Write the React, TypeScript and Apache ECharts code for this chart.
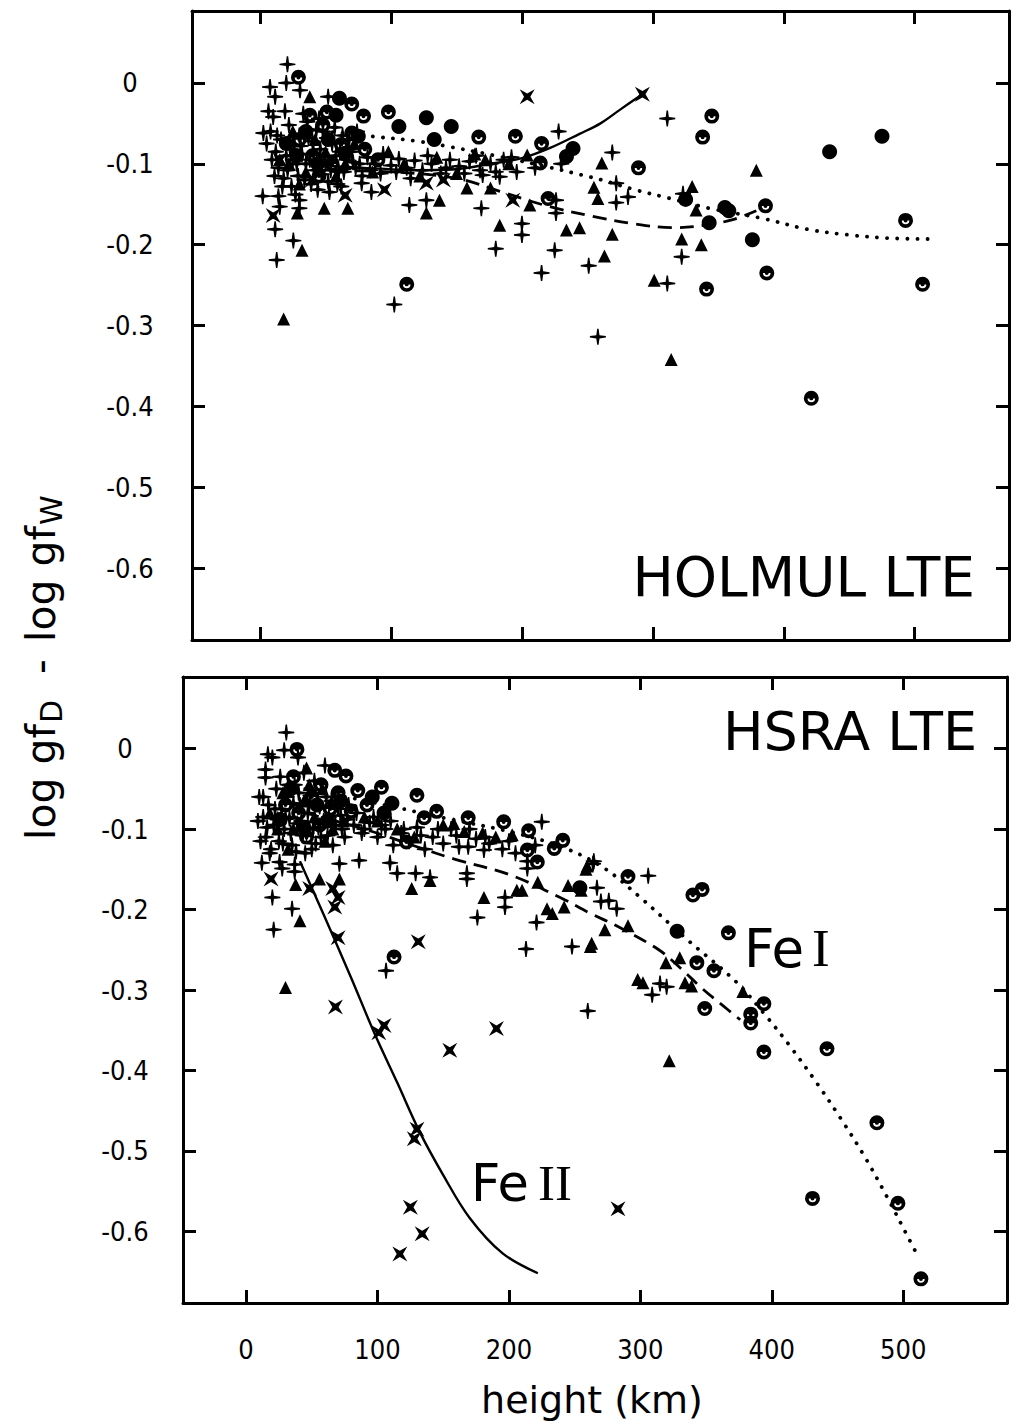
import React, { useEffect, useRef } from "react";
import * as echarts from "echarts";

// ---------- axis ticks ----------
const xTickValues = [0, 100, 200, 300, 400, 500];
const xTickLabels = ["0", "100", "200", "300", "400", "500"];
const yTickValues = [0, -0.1, -0.2, -0.3, -0.4, -0.5, -0.6];
const yTickLabels = ["0", "-0.1", "-0.2", "-0.3", "-0.4", "-0.5", "-0.6"];

// ---------- HOLMUL LTE (top panel) ----------
const topPlus = [
  [20.9, 0.023], [7.6, -0.005], [11.5, -0.017], [20, 0], [30.5, -0.009], [6.4, -0.035], [52, -0.017], [2.5, -0.062],
  [2, -0.14], [14, -0.14], [15, -0.153], [11.5, -0.181], [12.7, -0.219], [25.4, -0.195], [30, -0.145], [30, -0.155],
  [85, -0.135], [77.6, -0.124], [114, -0.151], [127, -0.145], [170, -0.114], [183, -0.116], [169, -0.155],
  [200, -0.174], [200, -0.188], [180, -0.205], [225, -0.207], [215, -0.235], [251, -0.226], [226, -0.145],
  [226, -0.161], [228, -0.06], [102.5, -0.274], [269, -0.086], [272, -0.124], [272, -0.148], [281, -0.141],
  [311, -0.044], [323, -0.137], [322, -0.215], [311, -0.248], [258, -0.314],
  [8, -0.06], [12, -0.085], [14, -0.105], [16, -0.07], [18, -0.118], [20, -0.09], [22, -0.052], [24, -0.128],
  [26, -0.078], [28, -0.1], [30, -0.065], [32, -0.088], [34, -0.12], [36, -0.048], [38, -0.095], [40, -0.072],
  [42, -0.108], [44, -0.132], [46, -0.082], [48, -0.06], [50, -0.1], [52, -0.122], [55, -0.075], [58, -0.09],
  [60, -0.11], [63, -0.065], [66, -0.095], [70, -0.085], [73, -0.105], [10, -0.042], [19, -0.035], [27, -0.138],
  [33, -0.038], [45, -0.044], [53, -0.135], [62, -0.128], [68, -0.07], [76, -0.1], [82, -0.092], [88, -0.1],
  [94, -0.088], [100, -0.102], [106, -0.094], [112, -0.105], [118, -0.096], [124, -0.108], [131, -0.1],
  [138, -0.112], [145, -0.095], [152, -0.103], [160, -0.097], [168, -0.108], [176, -0.1], [186, -0.095], [196, -0.11],
  [5, -0.075], [9, -0.095], [11, -0.115], [13, -0.065], [17, -0.128], [21, -0.108], [23, -0.082], [25, -0.095],
  [29, -0.115], [31, -0.078], [35, -0.1], [37, -0.068], [39, -0.125], [41, -0.088], [43, -0.058], [47, -0.113],
  [49, -0.09], [51, -0.068], [54, -0.108], [57, -0.055], [59, -0.125], [61, -0.085], [64, -0.11], [67, -0.08],
  [71, -0.098], [74, -0.06], [78, -0.115], [84, -0.108], [92, -0.112], [104, -0.11], [115, -0.118], [128, -0.09],
  [142, -0.105], [156, -0.112], [165, -0.09], [180, -0.11], [192, -0.092], [210, -0.105], [230, -0.1],
];
const topTri = [
  [38, -0.017], [32, -0.207], [18, -0.292], [28.5, -0.161], [49, -0.155], [67, -0.155], [127, -0.161], [137, -0.145],
  [158, -0.13], [176, -0.13], [206, -0.151], [183, -0.176], [234, -0.182], [244, -0.179], [164, -0.088], [204, -0.089],
  [261, -0.099], [255, -0.129], [258, -0.143], [330, -0.128], [333, -0.157], [269, -0.187], [322, -0.193],
  [337, -0.2], [263, -0.214], [301, -0.244], [379, -0.108], [314, -0.342],
  [15, -0.095], [25, -0.06], [35, -0.11], [42, -0.07], [50, -0.085], [58, -0.115], [65, -0.1], [72, -0.075],
  [30, -0.125], [22, -0.1], [86, -0.11], [98, -0.085], [110, -0.1], [122, -0.115], [135, -0.092], [150, -0.112],
  [172, -0.095], [190, -0.1],
];
const topRing = [
  [29.3, 0.007], [70, -0.026], [51, -0.036], [79, -0.041], [98, -0.036], [167, -0.067], [195, -0.066], [215, -0.075],
  [214, -0.099], [220, -0.143], [112, -0.249], [345, -0.041], [338, -0.067], [289, -0.105], [386, -0.152],
  [493, -0.17], [387, -0.235], [341, -0.255], [506, -0.249], [421, -0.39],
  [30, -0.07], [40, -0.09], [48, -0.052], [55, -0.1], [62, -0.076], [70, -0.062], [38, -0.04], [45, -0.115],
  [80, -0.082], [90, -0.095],
];
const topDisc = [
  [60.6, -0.019], [127, -0.043], [106, -0.054], [146, -0.054], [133, -0.07], [239, -0.081], [234, -0.091],
  [435, -0.085], [475, -0.066], [325, -0.144], [355, -0.154], [358, -0.158], [343, -0.173], [376, -0.194],
  [35, -0.06], [52, -0.07], [65, -0.087], [75, -0.066], [28, -0.09], [44, -0.1], [58, -0.04], [20, -0.075],
];
const topCross = [
  [10, -0.164], [65, -0.139], [95, -0.132], [127, -0.124], [193, -0.145], [204, -0.017], [292, -0.014],
  [15, -0.095], [40, -0.12], [140, -0.12],
];
const topSolid = [
  [40, -0.1], [65, -0.104], [92, -0.106], [117, -0.108], [147, -0.107], [176, -0.1], [200, -0.093], [222, -0.08],
  [244, -0.063], [260, -0.05], [275, -0.033], [292, -0.014],
];
const topDotted = [
  [40, -0.058], [85, -0.066], [120, -0.072], [145, -0.079], [180, -0.09], [220, -0.104], [246, -0.114],
  [261, -0.12], [286, -0.132], [311, -0.142], [343, -0.155], [385, -0.168], [418, -0.181], [450, -0.188],
  [480, -0.192], [511, -0.193],
];
const topDashed = [
  [40, -0.108], [100, -0.11], [150, -0.118], [185, -0.135], [219, -0.152], [254, -0.165], [285, -0.174],
  [315, -0.179], [340, -0.176], [361, -0.169], [379, -0.158],
];

// ---------- HSRA LTE (bottom panel) ----------
const botPlus = [
  [30.6, 0.02], [29, -0.002], [39.5, -0.011], [16.6, -0.007], [20, -0.011], [14.8, -0.026], [14.8, -0.036],
  [60, -0.021], [225, -0.091], [214, -0.14], [214, -0.149], [169, -0.122], [181, -0.126], [168, -0.155],
  [168, -0.162], [197, -0.185], [197, -0.197], [176, -0.21], [221, -0.216], [213, -0.249], [248, -0.246],
  [264, -0.143], [129, -0.155], [140, -0.16], [109.5, -0.142], [115, -0.155], [86, -0.139], [71, -0.143],
  [12, -0.142], [25.5, -0.141], [27.5, -0.149], [37, -0.144], [37, -0.153], [20, -0.185], [35, -0.199],
  [21, -0.225], [106.5, -0.276], [264.6, -0.14], [306, -0.158], [267, -0.173], [270, -0.19], [276, -0.189],
  [282, -0.199], [315, -0.292], [309, -0.306], [320, -0.296], [260, -0.326],
  [10, -0.06], [13, -0.085], [15, -0.11], [17, -0.07], [19, -0.125], [21, -0.095], [23, -0.05], [25, -0.115],
  [27, -0.075], [29, -0.1], [31, -0.06], [33, -0.087], [35, -0.12], [37, -0.045], [39, -0.093], [41, -0.07],
  [43, -0.108], [45, -0.13], [47, -0.08], [49, -0.058], [51, -0.1], [53, -0.118], [56, -0.072], [59, -0.09],
  [62, -0.108], [65, -0.065], [68, -0.095], [72, -0.083], [75, -0.11], [78, -0.07], [82, -0.095], [88, -0.105],
  [94, -0.092], [100, -0.11], [106, -0.1], [112, -0.12], [118, -0.105], [124, -0.115], [130, -0.098],
  [136, -0.125], [142, -0.11], [150, -0.118], [156, -0.1], [162, -0.122], [175, -0.112], [185, -0.118],
  [195, -0.125], [205, -0.13], [26, -0.035], [44, -0.03],
  [9, -0.09], [11, -0.115], [13, -0.06], [16, -0.098], [18, -0.13], [22, -0.075], [24, -0.088], [28, -0.118],
  [30, -0.085], [32, -0.045], [34, -0.105], [36, -0.068], [38, -0.128], [40, -0.055], [42, -0.09], [46, -0.105],
  [48, -0.07], [50, -0.125], [52, -0.04], [55, -0.098], [57, -0.11], [61, -0.06], [63, -0.085], [66, -0.12],
  [70, -0.075], [73, -0.1], [77, -0.088], [84, -0.08], [90, -0.1], [97, -0.085], [103, -0.095], [110, -0.09],
  [120, -0.1], [133, -0.108], [146, -0.1], [160, -0.108], [170, -0.1], [182, -0.11], [200, -0.115], [220, -0.12],
];
const botTri = [
  [46, -0.024], [202.5, -0.107], [166, -0.103], [181, -0.185], [262, -0.246], [206, -0.176], [210, -0.176],
  [222, -0.166], [229, -0.199], [233, -0.205], [242, -0.197], [245, -0.17], [255, -0.176], [258.6, -0.15],
  [126, -0.174], [140, -0.164], [55.8, -0.162], [71, -0.162], [37.7, -0.169], [41, -0.214], [30, -0.297],
  [259.5, -0.146], [290.6, -0.22], [273, -0.225], [263, -0.242], [319.5, -0.266], [330, -0.26], [298, -0.287],
  [334, -0.291], [302, -0.291], [339, -0.295], [378, -0.302], [322, -0.388],
  [18, -0.08], [28, -0.055], [36, -0.1], [44, -0.065], [52, -0.085], [60, -0.115], [66, -0.1], [74, -0.09],
  [32, -0.125], [24, -0.1], [90, -0.085], [100, -0.09], [115, -0.1], [128, -0.11], [150, -0.095], [158, -0.093],
  [180, -0.105], [190, -0.11], [48, -0.045], [58, -0.05],
];
const botRing = [
  [38.7, -0.001], [67.5, -0.027], [76, -0.034], [57, -0.045], [85, -0.052], [103, -0.048], [130, -0.058],
  [145, -0.078], [135.5, -0.086], [169, -0.086], [196, -0.091], [215, -0.102], [241, -0.114], [234.5, -0.124],
  [214, -0.126], [221.6, -0.141], [122, -0.116], [112.6, -0.259], [290.6, -0.159], [340, -0.182], [347, -0.175],
  [367, -0.229], [343, -0.266], [356, -0.276], [394, -0.317], [349, -0.323], [384, -0.33], [384, -0.341],
  [394, -0.377], [442, -0.373], [480, -0.465], [431, -0.559], [496, -0.565], [513.5, -0.659],
  [30, -0.07], [40, -0.08], [50, -0.06], [56, -0.095], [64, -0.075], [70, -0.055], [36, -0.035], [46, -0.11],
  [80, -0.078], [92, -0.07],
];
const botDisc = [
  [111, -0.068], [254, -0.173], [328, -0.227],
  [34, -0.05], [54, -0.07], [62, -0.09], [72, -0.065], [26, -0.088], [44, -0.098], [96, -0.06], [105, -0.08],
];
const botCross = [
  [66, -0.174], [70, -0.185], [67.5, -0.197], [19, -0.162], [48.4, -0.174], [70, -0.235], [131, -0.24],
  [68, -0.321], [101, -0.353], [105, -0.344], [190.5, -0.348], [155, -0.375], [130, -0.473], [128, -0.485],
  [125, -0.57], [134, -0.603], [117, -0.628], [283, -0.572],
];
const botSolid = [
  [41, -0.14], [60, -0.21], [80, -0.285], [98, -0.355], [115, -0.415], [132, -0.476], [150, -0.53],
  [170, -0.583], [195, -0.627], [222, -0.652],
];
const botDotted = [
  [45, -0.05], [100, -0.068], [150, -0.086], [200, -0.103], [240, -0.122], [272, -0.148], [300, -0.185],
  [334, -0.235], [373, -0.29], [394, -0.329], [414, -0.37], [434, -0.415],
  [453, -0.461], [471, -0.508], [487, -0.555], [503, -0.605], [511, -0.63],
];
const botDashed = [
  [45, -0.08], [90, -0.1], [130, -0.122], [158, -0.137], [201, -0.157], [239, -0.185], [261, -0.204],
  [284, -0.222], [314, -0.25], [330, -0.272], [347, -0.298], [361, -0.317], [376, -0.337],
];

// ---------- styling ----------
const FONT = "'Liberation Sans Narrow', 'DejaVu Sans Condensed', 'DejaVu Sans', sans-serif";
const TITLE_FONT = "'DejaVu Sans', sans-serif";
const SERIF_FONT = "'Liberation Serif', 'DejaVu Serif', serif";

const plusPath =
  "path://M-0.09,-1 L0.09,-1 L0.2,-0.2 L1,-0.09 L1,0.09 L0.2,0.2 L0.09,1 L-0.09,1 L-0.2,0.2 L-1,0.09 L-1,-0.09 L-0.2,-0.2 Z";
const crossPath = "path://M-1,-1 L0,-0.42 L1,-1 L0.42,0 L1,1 L0,0.42 L-1,1 L-0.42,0 Z";
const ringPath =
  "path://M0,-1 A1,1 0 1,1 0,1 A1,1 0 1,1 0,-1 Z M-0.5,0.02 A0.5,0.5 0 0,0 0.5,0.02 L0.26,0.02 A0.26,0.26 0 0,1 -0.26,0.02 Z";

function App() {
  const ref = useRef<HTMLDivElement>(null);

  useEffect(() => {
    document.body.style.margin = "0";
    if (!ref.current) return;
    const chart = echarts.init(ref.current, undefined, { renderer: "svg" });

    const lineStyle = { color: "#000", width: 3 };
    const xAxis = (gridIndex: number, min: number, max: number, position: string, labels: boolean) => ({
      type: "value",
      gridIndex,
      min,
      max,
      position,
      axisLine: { show: true, onZero: false, lineStyle },
      axisTick: { show: true, inside: true, length: 13, lineStyle, customValues: xTickValues },
      axisLabel: {
        show: labels,
        customValues: xTickValues,
        margin: 33,
        fontSize: 27,
        color: "#000",
        fontFamily: FONT,
        formatter: (v: number) => {
          const i = xTickValues.indexOf(Math.round(v));
          return i >= 0 ? xTickLabels[i] : String(v);
        },
      },
      splitLine: { show: false },
    });
    const yAxis = (gridIndex: number, position: string, labels: boolean, margin: number) => ({
      type: "value",
      gridIndex,
      min: -0.689,
      max: 0.089,
      position,
      axisLine: { show: true, onZero: false, lineStyle },
      axisTick: { show: true, inside: true, length: 13, lineStyle, customValues: yTickValues },
      axisLabel: {
        show: labels,
        customValues: yTickValues,
        margin,
        align: "center",
        fontSize: 27,
        color: "#000",
        fontFamily: FONT,
        formatter: (v: number) => {
          let best = 0;
          for (let i = 0; i < yTickValues.length; i++) {
            if (Math.abs(yTickValues[i] - v) < Math.abs(yTickValues[best] - v)) best = i;
          }
          return yTickLabels[best];
        },
      },
      splitLine: { show: false },
    });

    const scatter = (axis: number, data: number[][], symbol: string, size: number) => ({
      type: "scatter",
      xAxisIndex: axis,
      yAxisIndex: axis,
      data,
      symbol,
      symbolSize: size,
      itemStyle: { color: "#000", opacity: 1 },
      z: 3,
      silent: true,
    });
    const curve = (axis: number, data: number[][], type: any, width: number, cap = "butt") => ({
      type: "line",
      xAxisIndex: axis,
      yAxisIndex: axis,
      data,
      showSymbol: false,
      smooth: 0.35,
      lineStyle: { color: "#000", width, type, cap, opacity: 1 },
      z: 2,
      silent: true,
    });

    const txt = (text: string, x: number, y: number, size: number, align: string, family = TITLE_FONT) => ({
      type: "text",
      x,
      y,
      style: { text, fontSize: size, fontFamily: family, fill: "#000", align, verticalAlign: "middle" },
    });

    const option: any = {
      animation: false,
      backgroundColor: "#fff",
      grid: [
        { left: 192, top: 11, width: 817, height: 629, outerBoundsMode: "none" },
        { left: 183, top: 677, width: 824, height: 626, outerBoundsMode: "none" },
      ],
      xAxis: [
        xAxis(0, -52, 572, "bottom", false),
        xAxis(1, -48, 579, "bottom", true),
        xAxis(0, -52, 572, "top", false),
        xAxis(1, -48, 579, "top", false),
      ],
      yAxis: [
        yAxis(0, "left", true, 62),
        yAxis(1, "left", true, 58),
        yAxis(0, "right", false, 8),
        yAxis(1, "right", false, 8),
      ],
      series: [
        curve(0, topSolid, "solid", 2.4),
        curve(0, topDotted, [0.1, 10], 3.8, "round"),
        curve(0, topDashed, [14, 8], 2.8),
        scatter(0, topPlus, plusPath, 16),
        scatter(0, topTri, "triangle", 13),
        scatter(0, topRing, ringPath, 15),
        scatter(0, topDisc, "circle", 15),
        scatter(0, topCross, crossPath, 15),
        curve(1, botSolid, "solid", 2.4),
        curve(1, botDotted, [0.1, 10], 3.8, "round"),
        curve(1, botDashed, [14, 8], 2.8),
        scatter(1, botPlus, plusPath, 16),
        scatter(1, botTri, "triangle", 13),
        scatter(1, botRing, ringPath, 15),
        scatter(1, botDisc, "circle", 15),
        scatter(1, botCross, crossPath, 15),
      ],
      graphic: [
        txt("HOLMUL LTE", 975, 577, 55, "right"),
        txt("HSRA LTE", 977, 731, 54, "right"),
        txt("Fe", 744, 948, 53, "left"),
        txt("I", 812, 948, 53, "left", SERIF_FONT),
        txt("Fe", 471, 1183, 51, "left"),
        txt("II", 538, 1183, 51, "left", SERIF_FONT),
        txt("height (km)", 592, 1400, 38, "center"),
        {
          type: "group",
          x: 52,
          y: 840,
          rotation: Math.PI / 2,
          children: [
            { type: "text", x: 0, y: -11, style: { text: "log gf", fontSize: 41, fontFamily: TITLE_FONT, fill: "#000", align: "left", verticalAlign: "middle" } },
            { type: "text", x: 117, y: -1, style: { text: "D", fontSize: 30, fontFamily: TITLE_FONT, fill: "#000", align: "left", verticalAlign: "middle" } },
            { type: "text", x: 166, y: -11, style: { text: "-", fontSize: 41, fontFamily: TITLE_FONT, fill: "#000", align: "left", verticalAlign: "middle" } },
            { type: "text", x: 198, y: -11, style: { text: "log gf", fontSize: 41, fontFamily: TITLE_FONT, fill: "#000", align: "left", verticalAlign: "middle" } },
            { type: "text", x: 315, y: -1, style: { text: "W", fontSize: 30, fontFamily: TITLE_FONT, fill: "#000", align: "left", verticalAlign: "middle" } },
          ],
        },
      ],
    };

    chart.setOption(option);
    return () => chart.dispose();
  }, []);

  return <div ref={ref} style={{ width: 1026, height: 1427 }} />;
}

export default App;
